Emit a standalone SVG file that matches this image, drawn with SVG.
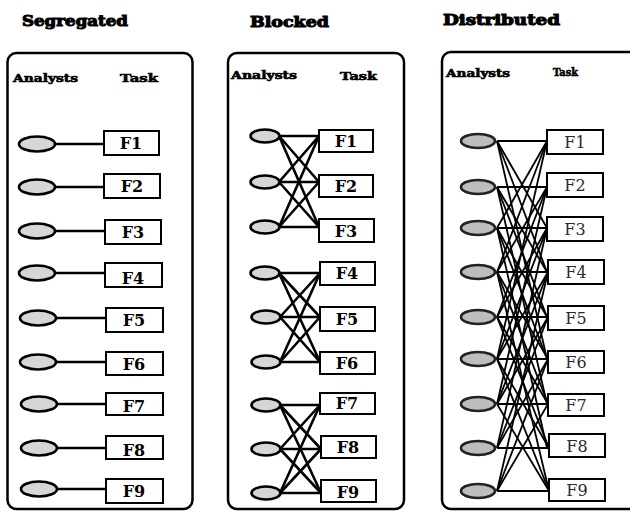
<svg xmlns="http://www.w3.org/2000/svg" width="630" height="512" viewBox="0 0 630 512">
<style>
.bg{fill:#fff}
.panel{fill:none;stroke:#000;stroke-width:2.5}
.hdr{font-family:"DejaVu Serif","Liberation Serif",serif;font-weight:bold;font-size:14px;fill:#000;stroke:#000;stroke-width:1}
.col{font-family:"DejaVu Serif","Liberation Serif",serif;font-weight:bold;font-size:10.5px;fill:#000;stroke:#000;stroke-width:0.6}
.an{fill:#d6d6d6;stroke:#000;stroke-width:2.6}
.an3{fill:#bdbdbd;stroke:#222;stroke-width:2.6}
.task{fill:#fff;stroke:#000;stroke-width:2}
.lbl{font-family:"DejaVu Serif","Liberation Serif",serif;font-weight:bold;font-size:16px;fill:#000;text-anchor:middle}
.lbl3{font-family:"DejaVu Serif","Liberation Serif",serif;font-size:16px;fill:#2a2a2a;text-anchor:middle}
.c1{stroke:#000;stroke-width:2.4}
.c2{stroke:#000;stroke-width:2.6}
.c3{stroke:#000;stroke-width:1.8}
</style>
<rect class="bg" x="0" y="0" width="630" height="512"/>

<g id="segregated">
  <text class="hdr" x="22" y="26" textLength="106" lengthAdjust="spacingAndGlyphs">Segregated</text>
  <rect class="panel" x="7.5" y="53" width="185" height="456" rx="9"/>
  <text class="col" x="13" y="82" textLength="65" lengthAdjust="spacingAndGlyphs">Analysts</text>
  <text class="col" x="120" y="82" textLength="38" lengthAdjust="spacingAndGlyphs">Task</text>
</g>
<g id="blocked">
  <text class="hdr" x="250" y="27" textLength="79" lengthAdjust="spacingAndGlyphs">Blocked</text>
  <rect class="panel" x="228" y="53" width="176" height="456" rx="9"/>
  <text class="col" x="231" y="79" textLength="66" lengthAdjust="spacingAndGlyphs">Analysts</text>
  <text class="col" x="340" y="80" textLength="37" lengthAdjust="spacingAndGlyphs">Task</text>
</g>
<g id="distributed">
  <text class="hdr" x="443" y="25" textLength="117" lengthAdjust="spacingAndGlyphs">Distributed</text>
  <rect class="panel" x="442" y="52" width="200" height="457" rx="9"/>
  <text class="col" x="446" y="77" textLength="64" lengthAdjust="spacingAndGlyphs">Analysts</text>
  <text class="col" x="553" y="76" textLength="25" lengthAdjust="spacingAndGlyphs">Task</text>
</g>

<g id="connectors">
  <!-- segregated -->
  <line class="c1" x1="55" y1="144" x2="104" y2="144"/>
  <line class="c1" x1="55" y1="187" x2="104" y2="187"/>
  <line class="c1" x1="55" y1="231" x2="105" y2="231"/>
  <line class="c1" x1="55" y1="273" x2="105" y2="273"/>
  <line class="c1" x1="56" y1="318" x2="106" y2="318"/>
  <line class="c1" x1="56" y1="362" x2="106" y2="362"/>
  <line class="c1" x1="57" y1="404" x2="106" y2="404"/>
  <line class="c1" x1="57" y1="448" x2="106" y2="448"/>
  <line class="c1" x1="57" y1="489" x2="106" y2="489"/>
  <!-- blocked group 1 -->
  <line class="c2" x1="279" y1="136" x2="319" y2="136"/>
  <line class="c2" x1="279" y1="136" x2="319" y2="182"/>
  <line class="c2" x1="279" y1="136" x2="319" y2="227"/>
  <line class="c2" x1="279" y1="182" x2="319" y2="136"/>
  <line class="c2" x1="279" y1="182" x2="319" y2="182"/>
  <line class="c2" x1="279" y1="182" x2="319" y2="227"/>
  <line class="c2" x1="279" y1="227" x2="319" y2="136"/>
  <line class="c2" x1="279" y1="227" x2="319" y2="182"/>
  <line class="c2" x1="279" y1="227" x2="319" y2="227"/>
  <!-- blocked group 2 -->
  <line class="c2" x1="279" y1="273" x2="320" y2="273"/>
  <line class="c2" x1="279" y1="273" x2="320" y2="317"/>
  <line class="c2" x1="279" y1="273" x2="320" y2="362"/>
  <line class="c2" x1="280" y1="317" x2="320" y2="273"/>
  <line class="c2" x1="280" y1="317" x2="320" y2="317"/>
  <line class="c2" x1="280" y1="317" x2="320" y2="362"/>
  <line class="c2" x1="280" y1="362" x2="320" y2="273"/>
  <line class="c2" x1="280" y1="362" x2="320" y2="317"/>
  <line class="c2" x1="280" y1="362" x2="320" y2="362"/>
  <!-- blocked group 3 -->
  <line class="c2" x1="280" y1="405" x2="320" y2="405"/>
  <line class="c2" x1="280" y1="405" x2="321" y2="449"/>
  <line class="c2" x1="280" y1="405" x2="321" y2="493"/>
  <line class="c2" x1="280" y1="449" x2="320" y2="405"/>
  <line class="c2" x1="280" y1="449" x2="321" y2="449"/>
  <line class="c2" x1="280" y1="449" x2="321" y2="493"/>
  <line class="c2" x1="280" y1="493" x2="320" y2="405"/>
  <line class="c2" x1="280" y1="493" x2="321" y2="449"/>
  <line class="c2" x1="280" y1="493" x2="321" y2="493"/>
  <!-- distributed -->
  <line class="c3" x1="497" y1="141" x2="547" y2="141"/>
  <line class="c3" x1="497" y1="141" x2="547" y2="228"/>
  <line class="c3" x1="497" y1="141" x2="547" y2="272"/>
  <line class="c3" x1="497" y1="141" x2="547" y2="359"/>
  <line class="c3" x1="497" y1="187" x2="547" y2="187"/>
  <line class="c3" x1="497" y1="187" x2="547" y2="272"/>
  <line class="c3" x1="497" y1="187" x2="547" y2="317"/>
  <line class="c3" x1="497" y1="187" x2="547" y2="404"/>
  <line class="c3" x1="497" y1="228" x2="547" y2="228"/>
  <line class="c3" x1="497" y1="228" x2="547" y2="141"/>
  <line class="c3" x1="497" y1="228" x2="547" y2="317"/>
  <line class="c3" x1="497" y1="228" x2="547" y2="359"/>
  <line class="c3" x1="497" y1="228" x2="547" y2="448"/>
  <line class="c3" x1="497" y1="272" x2="548" y2="272"/>
  <line class="c3" x1="497" y1="272" x2="547" y2="187"/>
  <line class="c3" x1="497" y1="272" x2="548" y2="359"/>
  <line class="c3" x1="497" y1="272" x2="547" y2="141"/>
  <line class="c3" x1="497" y1="272" x2="548" y2="404"/>
  <line class="c3" x1="497" y1="272" x2="549" y2="491"/>
  <line class="c3" x1="497" y1="317" x2="548" y2="317"/>
  <line class="c3" x1="497" y1="317" x2="547" y2="228"/>
  <line class="c3" x1="497" y1="317" x2="548" y2="404"/>
  <line class="c3" x1="497" y1="317" x2="547" y2="187"/>
  <line class="c3" x1="497" y1="317" x2="549" y2="448"/>
  <line class="c3" x1="497" y1="359" x2="548" y2="359"/>
  <line class="c3" x1="497" y1="359" x2="548" y2="272"/>
  <line class="c3" x1="497" y1="359" x2="549" y2="448"/>
  <line class="c3" x1="497" y1="359" x2="547" y2="228"/>
  <line class="c3" x1="497" y1="359" x2="549" y2="491"/>
  <line class="c3" x1="497" y1="359" x2="547" y2="141"/>
  <line class="c3" x1="497" y1="404" x2="548" y2="404"/>
  <line class="c3" x1="497" y1="404" x2="548" y2="317"/>
  <line class="c3" x1="497" y1="404" x2="549" y2="491"/>
  <line class="c3" x1="497" y1="404" x2="548" y2="272"/>
  <line class="c3" x1="497" y1="404" x2="547" y2="187"/>
  <line class="c3" x1="497" y1="448" x2="549" y2="448"/>
  <line class="c3" x1="497" y1="448" x2="548" y2="359"/>
  <line class="c3" x1="497" y1="448" x2="548" y2="317"/>
  <line class="c3" x1="497" y1="448" x2="547" y2="228"/>
  <line class="c3" x1="497" y1="491" x2="549" y2="491"/>
  <line class="c3" x1="497" y1="491" x2="548" y2="404"/>
  <line class="c3" x1="497" y1="491" x2="548" y2="359"/>
  <line class="c3" x1="497" y1="491" x2="548" y2="272"/>
</g>

<!-- Segregated nodes -->
<g id="s-a1"><ellipse class="an" cx="37" cy="144" rx="18" ry="7.5"/></g>
<g id="s-a2"><ellipse class="an" cx="37" cy="187" rx="18" ry="7.5"/></g>
<g id="s-a3"><ellipse class="an" cx="37" cy="231" rx="18" ry="7.5"/></g>
<g id="s-a4"><ellipse class="an" cx="37" cy="273" rx="18" ry="7.5"/></g>
<g id="s-a5"><ellipse class="an" cx="38" cy="318" rx="18" ry="7.5"/></g>
<g id="s-a6"><ellipse class="an" cx="38" cy="362" rx="18" ry="7.5"/></g>
<g id="s-a7"><ellipse class="an" cx="39" cy="404" rx="18" ry="7.5"/></g>
<g id="s-a8"><ellipse class="an" cx="39" cy="448" rx="18" ry="7.5"/></g>
<g id="s-a9"><ellipse class="an" cx="39" cy="489" rx="18" ry="7.5"/></g>
<g id="s-f1"><rect class="task" x="104" y="131" width="55" height="24"/><text class="lbl" x="131" y="149">F1</text></g>
<g id="s-f2"><rect class="task" x="104" y="174" width="56" height="24"/><text class="lbl" x="132" y="192">F2</text></g>
<g id="s-f3"><rect class="task" x="105" y="220" width="56" height="24"/><text class="lbl" x="133" y="238">F3</text></g>
<g id="s-f4"><rect class="task" x="105" y="263" width="57" height="24"/><text class="lbl" x="133" y="284">F4</text></g>
<g id="s-f5"><rect class="task" x="106" y="308" width="57" height="24"/><text class="lbl" x="134" y="326">F5</text></g>
<g id="s-f6"><rect class="task" x="106" y="352" width="57" height="23"/><text class="lbl" x="134" y="370">F6</text></g>
<g id="s-f7"><rect class="task" x="106" y="393" width="57" height="22"/><text class="lbl" x="134" y="412">F7</text></g>
<g id="s-f8"><rect class="task" x="106" y="436" width="57" height="23"/><text class="lbl" x="134" y="456">F8</text></g>
<g id="s-f9"><rect class="task" x="106" y="479" width="57" height="24"/><text class="lbl" x="134" y="497">F9</text></g>

<!-- Blocked nodes -->
<g id="b-a1"><ellipse class="an" cx="265" cy="136" rx="14.5" ry="6.5"/></g>
<g id="b-a2"><ellipse class="an" cx="265" cy="182" rx="14.5" ry="6.5"/></g>
<g id="b-a3"><ellipse class="an" cx="265" cy="227" rx="14.5" ry="6.5"/></g>
<g id="b-a4"><ellipse class="an" cx="265" cy="273" rx="14.5" ry="6.5"/></g>
<g id="b-a5"><ellipse class="an" cx="266" cy="317" rx="14.5" ry="6.5"/></g>
<g id="b-a6"><ellipse class="an" cx="266" cy="362" rx="14.5" ry="6.5"/></g>
<g id="b-a7"><ellipse class="an" cx="266" cy="405" rx="14.5" ry="6.5"/></g>
<g id="b-a8"><ellipse class="an" cx="266" cy="449" rx="14.5" ry="6.5"/></g>
<g id="b-a9"><ellipse class="an" cx="266" cy="493" rx="14.5" ry="6.5"/></g>
<g id="b-f1"><rect class="task" x="319" y="130" width="54" height="22"/><text class="lbl" x="346" y="147">F1</text></g>
<g id="b-f2"><rect class="task" x="319" y="175" width="54" height="22"/><text class="lbl" x="346" y="192">F2</text></g>
<g id="b-f3"><rect class="task" x="319" y="219" width="55" height="23"/><text class="lbl" x="346" y="237">F3</text></g>
<g id="b-f4"><rect class="task" x="320" y="262" width="55" height="23"/><text class="lbl" x="347" y="279">F4</text></g>
<g id="b-f5"><rect class="task" x="320" y="307" width="55" height="24"/><text class="lbl" x="347" y="325">F5</text></g>
<g id="b-f6"><rect class="task" x="320" y="352" width="55" height="22"/><text class="lbl" x="347" y="369">F6</text></g>
<g id="b-f7"><rect class="task" x="320" y="393" width="55" height="21"/><text class="lbl" x="347" y="409">F7</text></g>
<g id="b-f8"><rect class="task" x="321" y="436" width="55" height="22"/><text class="lbl" x="348" y="453">F8</text></g>
<g id="b-f9"><rect class="task" x="321" y="480" width="55" height="22"/><text class="lbl" x="348" y="498">F9</text></g>

<!-- Distributed nodes -->
<g id="d-a1"><ellipse class="an3" cx="478" cy="141" rx="17" ry="7"/></g>
<g id="d-a2"><ellipse class="an3" cx="478" cy="187" rx="17" ry="7"/></g>
<g id="d-a3"><ellipse class="an3" cx="478" cy="228" rx="17" ry="7"/></g>
<g id="d-a4"><ellipse class="an3" cx="478" cy="272" rx="17" ry="7"/></g>
<g id="d-a5"><ellipse class="an3" cx="478" cy="317" rx="17" ry="7"/></g>
<g id="d-a6"><ellipse class="an3" cx="478" cy="359" rx="17" ry="7"/></g>
<g id="d-a7"><ellipse class="an3" cx="478" cy="404" rx="17" ry="7"/></g>
<g id="d-a8"><ellipse class="an3" cx="478" cy="448" rx="17" ry="7"/></g>
<g id="d-a9"><ellipse class="an3" cx="478" cy="491" rx="17" ry="7"/></g>
<g id="d-f1"><rect class="task" x="547" y="130" width="56" height="24"/><text class="lbl3" x="575" y="148">F1</text></g>
<g id="d-f2"><rect class="task" x="547" y="173" width="56" height="24"/><text class="lbl3" x="575" y="191">F2</text></g>
<g id="d-f3"><rect class="task" x="547" y="217" width="56" height="24"/><text class="lbl3" x="575" y="235">F3</text></g>
<g id="d-f4"><rect class="task" x="548" y="260" width="56" height="24"/><text class="lbl3" x="576" y="278">F4</text></g>
<g id="d-f5"><rect class="task" x="548" y="306" width="56" height="24"/><text class="lbl3" x="576" y="324">F5</text></g>
<g id="d-f6"><rect class="task" x="548" y="351" width="56" height="22"/><text class="lbl3" x="576" y="368">F6</text></g>
<g id="d-f7"><rect class="task" x="548" y="394" width="56" height="22"/><text class="lbl3" x="576" y="411">F7</text></g>
<g id="d-f8"><rect class="task" x="549" y="434" width="56" height="23"/><text class="lbl3" x="577" y="452">F8</text></g>
<g id="d-f9"><rect class="task" x="549" y="479" width="56" height="22"/><text class="lbl3" x="577" y="496">F9</text></g>
</svg>
